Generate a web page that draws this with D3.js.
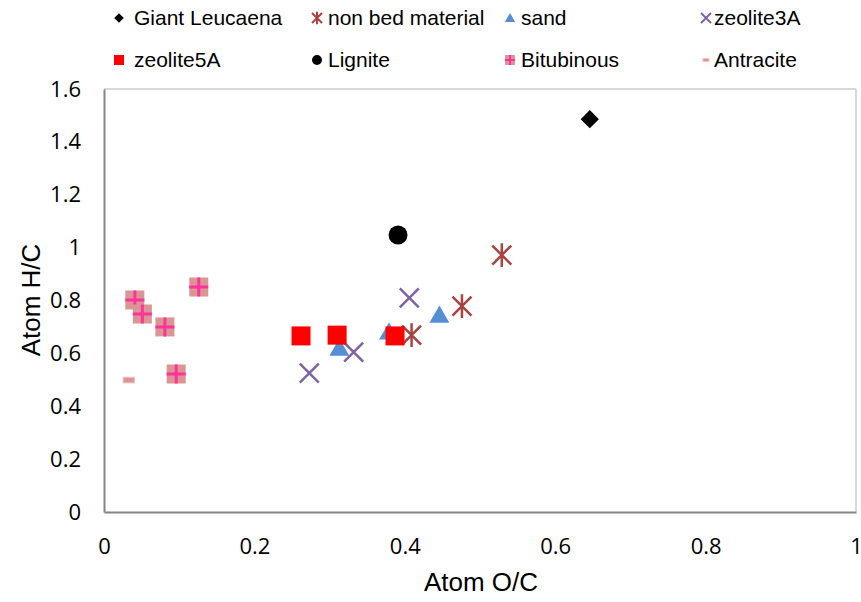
<!DOCTYPE html>
<html>
<head>
<meta charset="utf-8">
<script src="https://cdn.jsdelivr.net/npm/d3@7"></script>
<style>
  body { margin: 0; background: #fff; }
  text { font-family: "Liberation Sans", Arial, sans-serif; fill: #000; }
</style>
</head>
<body>
<svg id="chart" width="861" height="602"></svg>
<script>
// series data: [O/C, H/C]
var giantLeucaena = [[0.646, 1.486]];
var nonBedMaterial = [[0.529, 0.972], [0.476, 0.779], [0.409, 0.669]];
var sand = [[0.446, 0.745], [0.379, 0.681], [0.313, 0.620]];
var zeolite3A = [[0.406, 0.810], [0.332, 0.605], [0.273, 0.525]];
var zeolite5A = [[0.262, 0.666], [0.310, 0.669], [0.387, 0.666]];
var lignite = [[0.391, 1.048]];
var bitubinous = [[0.041, 0.802], [0.051, 0.749], [0.081, 0.700], [0.126, 0.851], [0.096, 0.522]];
var antracite = [[0.033, 0.499]];

var xTicks = [0, 0.2, 0.4, 0.6, 0.8, 1];
var yTicks = [0, 0.2, 0.4, 0.6, 0.8, 1, 1.2, 1.4, 1.6];

var seriesNames = ["Giant Leucaena", "non bed material", "sand", "zeolite3A",
                   "zeolite5A", "Lignite", "Bitubinous", "Antracite"];

var margin = {top: 89, left: 104};

var svg = d3.select("#chart");
var g = svg.append("g").attr("transform", "translate(" + margin.left + "," + margin.top + ")");

var x = d3.scaleLinear().domain([0, 1]).range([0, 752]);
var y = d3.scaleLinear().domain([0, 1.6]).range([423, 0]);

// plot frame
g.append("line").attr("x1", 0).attr("x2", 752).attr("y1", 0).attr("y2", 0)
    .attr("stroke", "#d9d9d9").attr("stroke-width", 2);
g.append("line").attr("x1", 752).attr("x2", 752).attr("y1", 0).attr("y2", 423)
    .attr("stroke", "#d9d9d9").attr("stroke-width", 2);

var xAxis = g.append("g").attr("transform", "translate(0,423)")
    .call(d3.axisBottom(x).tickValues(xTicks).tickSize(0).tickPadding(26).tickFormat(d3.format("")));
var yAxis = g.append("g")
    .call(d3.axisLeft(y).tickValues(yTicks).tickSize(0).tickPadding(23).tickFormat(d3.format("")));

[xAxis, yAxis].forEach(function(a) {
    a.select(".domain").attr("stroke", "#868686").attr("stroke-width", 2);
    a.selectAll("text").style("font-family", "'Open Sans', 'Liberation Sans', sans-serif")
        .style("font-size", "22px").attr("fill", "#000");
});

svg.append("text").attr("x", 481).attr("y", 591).attr("text-anchor", "middle")
    .style("font-size", "26px").text("Atom O/C");
svg.append("text").attr("transform", "translate(40,300) rotate(-90)").attr("text-anchor", "middle")
    .style("font-size", "26px").text("Atom H/C");

// marker painters: draw(sel, size)
function diamond(sel, s) {
    var r = s * 0.48;
    sel.append("path").attr("d", "M0," + (-r) + "L" + r + ",0L0," + r + "L" + (-r) + ",0Z").attr("fill", "#000");
}
function star(sel, s) {
    var r = s / 2;
    sel.append("path")
        .attr("d", "M" + (-r) + "," + (-r) + "L" + r + "," + r + "M" + (-r) + "," + r + "L" + r + "," + (-r) +
                   "M0," + (-r * 1.25) + "L0," + (r * 1.25))
        .attr("stroke", "#a9433f").attr("stroke-width", s > 12 ? 2.5 : 2).attr("fill", "none");
}
function triangle(sel, s) {
    var r = s / 2;
    sel.append("path").attr("d", "M0," + (-r) + "L" + (r * 1.05) + "," + (r * 0.8) + "L" + (-r * 1.05) + "," + (r * 0.8) + "Z")
        .attr("fill", "#558ed5");
}
function cross(sel, s) {
    var r = s / 2;
    sel.append("path")
        .attr("d", "M" + (-r) + "," + (-r) + "L" + r + "," + r + "M" + (-r) + "," + r + "L" + r + "," + (-r))
        .attr("stroke", "#7f63a1").attr("stroke-width", s > 12 ? 2.5 : 2).attr("fill", "none");
}
function square(sel, s) {
    sel.append("rect").attr("x", -s / 2).attr("y", -s / 2).attr("width", s).attr("height", s).attr("fill", "#ff0000");
}
function circle(sel, s) {
    sel.append("circle").attr("r", s / 2).attr("fill", "#000");
}
function plusSquare(sel, s) {
    var r = s / 2;
    sel.append("rect").attr("x", -r).attr("y", -r).attr("width", s).attr("height", s).attr("fill", "#d99694");
    sel.append("path").attr("d", "M" + (-r) + ",0L" + r + ",0M0," + (-r) + "L0," + r)
        .attr("stroke", "#ff3399").attr("stroke-width", s > 12 ? 3 : 2);
}
function dash(sel, s) {
    sel.append("rect").attr("x", -s * 0.3).attr("y", -s * 0.15).attr("width", s * 0.6).attr("height", s * 0.3)
        .attr("fill", "#d99694").attr("stroke", "#f2c4c4").attr("stroke-width", 1);
}

var series = [
    {name: seriesNames[0], data: giantLeucaena, draw: diamond, size: 19},
    {name: seriesNames[1], data: nonBedMaterial, draw: star, size: 19},
    {name: seriesNames[2], data: sand, draw: triangle, size: 19},
    {name: seriesNames[3], data: zeolite3A, draw: cross, size: 19},
    {name: seriesNames[4], data: zeolite5A, draw: square, size: 19},
    {name: seriesNames[5], data: lignite, draw: circle, size: 19},
    {name: seriesNames[6], data: bitubinous, draw: plusSquare, size: 19},
    {name: seriesNames[7], data: antracite, draw: dash, size: 19}
];

series.forEach(function(s) {
    g.selectAll(null).data(s.data).enter().append("g")
        .attr("transform", function(d) { return "translate(" + x(d[0]) + "," + y(d[1]) + ")"; })
        .each(function() { s.draw(d3.select(this), s.size); });
});

// legend, two rows of four
var legendMarkX = [119, 317, 510, 706];
var legendTextX = [134, 328, 521, 714];
var legendRows = [18, 60];
series.forEach(function(s, i) {
    var col = i % 4, ly = legendRows[Math.floor(i / 4)];
    svg.append("g").attr("transform", "translate(" + legendMarkX[col] + "," + ly + ")")
        .call(function(sel) { s.draw(sel, 10); });
    svg.append("text").attr("x", legendTextX[col]).attr("y", ly + 7)
        .style("font-size", "21px").text(s.name);
});
</script>
</body>
</html>
